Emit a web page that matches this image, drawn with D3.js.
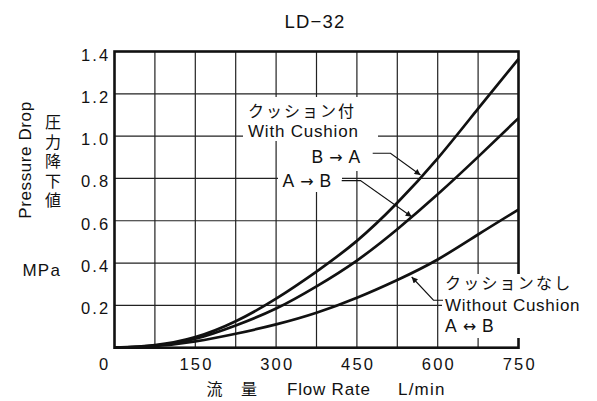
<!DOCTYPE html>
<html><head><meta charset="utf-8">
<script src="https://cdn.jsdelivr.net/npm/d3@7"></script>
<style>body{margin:0;background:#fff}svg{display:block}</style>
</head><body><svg id="c" width="597" height="401"></svg>
<script>
// ---- data ----
const flowRates      = [0, 75, 150, 225, 300, 375, 450, 525, 600, 675, 750];
const withCushionBA  = [0, 0.012, 0.05, 0.125, 0.232, 0.36, 0.505, 0.685, 0.895, 1.13, 1.365];
const withCushionAB  = [0, 0.01, 0.042, 0.105, 0.185, 0.29, 0.412, 0.56, 0.725, 0.902, 1.085];
const withoutCushion = [0, 0.008, 0.03, 0.066, 0.11, 0.165, 0.236, 0.32, 0.417, 0.535, 0.653];
const xGridValues = [75, 150, 225, 300, 375, 450, 525, 600, 675];
const xTickValues = [150, 300, 450, 600, 750];
const xTickLabels = ["150", "300", "450", "600", "750"];
const yTickValues = [0.2, 0.4, 0.6, 0.8, 1.0, 1.2, 1.4];
const yTickLabels = ["0.2", "0.4", "0.6", "0.8", "1.0", "1.2", "1.4"];
const yGridValues = [0.2, 0.4, 0.6, 0.8, 1.0, 1.2];
const titleText = "LD\u221232";

const SANS = "'Liberation Sans', Arial, Helvetica, sans-serif";
const CJK = "'Noto Sans CJK JP', sans-serif";
const INK = "#111";

const svg = d3.select("#c");
const x = d3.scaleLinear().domain([0, 750]).range([114.5, 518.5]);
const y = d3.scaleLinear().domain([0, 1.4]).range([347.7, 51.5]);

// defs: arrowhead
svg.append("defs").append("marker")
  .attr("id", "ah").attr("viewBox", "0 0 10 10").attr("refX", 10).attr("refY", 5)
  .attr("markerWidth", 8).attr("markerHeight", 6).attr("markerUnits", "userSpaceOnUse")
  .attr("orient", "auto")
  .append("path").attr("d", "M0,0 L10,5 L0,10 Z").attr("fill", INK);

// grid
const grid = svg.append("g").attr("stroke", "#222").attr("stroke-width", 1.2);
grid.selectAll("line.v").data(xGridValues).join("line")
  .attr("x1", d => x(d)).attr("x2", d => x(d)).attr("y1", y(0)).attr("y2", y(1.4));
grid.selectAll("line.h").data(yGridValues).join("line")
  .attr("y1", d => y(d)).attr("y2", d => y(d)).attr("x1", x(0)).attr("x2", x(750));

// frame
svg.append("rect").attr("x", x(0)).attr("y", y(1.4))
  .attr("width", x(750) - x(0)).attr("height", y(0) - y(1.4))
  .attr("fill", "none").attr("stroke", INK).attr("stroke-width", 2.6);

// white label backgrounds
const boxes = [[243, 97, 135, 44], [305, 141, 64, 30], [278, 166, 64, 26], [442, 274, 152, 64]];
svg.append("g").selectAll("rect").data(boxes).join("rect")
  .attr("x", d => d[0]).attr("y", d => d[1]).attr("width", d => d[2]).attr("height", d => d[3])
  .attr("fill", "#fff");

// curves
const line = d3.line().x(d => x(d[0])).y(d => y(Math.max(0, d[1]))).curve(d3.curveNatural);
[withCushionBA, withCushionAB, withoutCushion].forEach(s => {
  svg.append("path").datum(flowRates.map((f, i) => [f, s[i]]))
    .attr("d", line).attr("fill", "none").attr("stroke", INK).attr("stroke-width", 2.7)
    .attr("stroke-linejoin", "round");
});

// leader lines
const leaders = [
  "M372.7,153.3 H390.5 L420.5,175",
  "M341.7,180.6 H360.5 L411.7,216.7",
  "M443,300.2 H433.5 L411.7,277"
];
svg.append("g").selectAll("path").data(leaders).join("path")
  .attr("d", d => d).attr("fill", "none").attr("stroke", INK).attr("stroke-width", 1.1)
  .attr("marker-end", "url(#ah)");

// text helper
function txt(t, xx, yy, opt = {}) {
  const e = svg.append("text").attr("x", xx).attr("y", yy).text(t)
    .attr("fill", INK)
    .attr("font-family", opt.family || SANS)
    .attr("font-size", opt.size || 17)
    .attr("text-anchor", opt.anchor || "start");
  if (opt.ls) e.attr("letter-spacing", opt.ls);
  if (opt.transform) e.attr("transform", opt.transform);
  return e;
}
function arrowLabel(a, arrow, b, xx, yy) {
  const e = svg.append("text").attr("x", xx).attr("y", yy).attr("fill", INK)
    .attr("font-family", SANS).attr("font-size", 17.5);
  e.append("tspan").text(a);
  e.append("tspan").attr("dx", 6).attr("font-family", "'DejaVu Sans', sans-serif").attr("font-size", 16).text(arrow);
  e.append("tspan").attr("dx", 6).text(b);
  return e;
}

// title
txt(titleText, 315, 28, {size: 18.5, anchor: "middle", ls: 1.2});

// y tick labels
yTickValues.forEach((v, i) => txt(yTickLabels[i], 110.5, y(v) + 9, {size: 16.5, anchor: "end", ls: 2.2}));
txt("0", 110.5, 369.5, {size: 16.5, anchor: "end", ls: 2.2});
// x tick labels
xTickValues.forEach((v, i) => txt(xTickLabels[i], x(v) + 1.2, 370, {size: 16.5, anchor: "middle", ls: 2.2}));

// axis titles
txt("Pressure Drop", 0, 0, {size: 17, anchor: "middle", ls: 0.6, transform: "translate(31,160) rotate(-90)"});
svg.append("text").attr("x", 53).attr("y", 114)
  .attr("font-family", CJK).attr("font-size", 16).attr("fill", INK)
  .attr("writing-mode", "vertical-rl").attr("letter-spacing", 3.5)
  .text("圧力降下値");
txt("MPa", 22.5, 276, {size: 17, ls: 1.2});

txt("流", 206.5, 395, {family: CJK, size: 16});
txt("量", 241, 395, {family: CJK, size: 16});
txt("Flow Rate", 287, 395, {size: 17, ls: 0.8});
txt("L/min", 398, 395, {size: 17, ls: 1.2});

// annotations
txt("クッション付", 248, 117, {family: CJK, size: 16, ls: 2});
txt("With Cushion", 248, 136.5, {size: 17, ls: 0.8});
arrowLabel("B", "\u2192", "A", 311.5, 162.7);
arrowLabel("A", "\u2192", "B", 282.5, 186.7);
txt("クッションなし", 445, 289, {family: CJK, size: 16, ls: 2.2});
txt("Without Cushion", 445, 310.7, {size: 17, ls: 0.7});
arrowLabel("A", "\u2194", "B", 445, 331.7);
</script></body></html>
